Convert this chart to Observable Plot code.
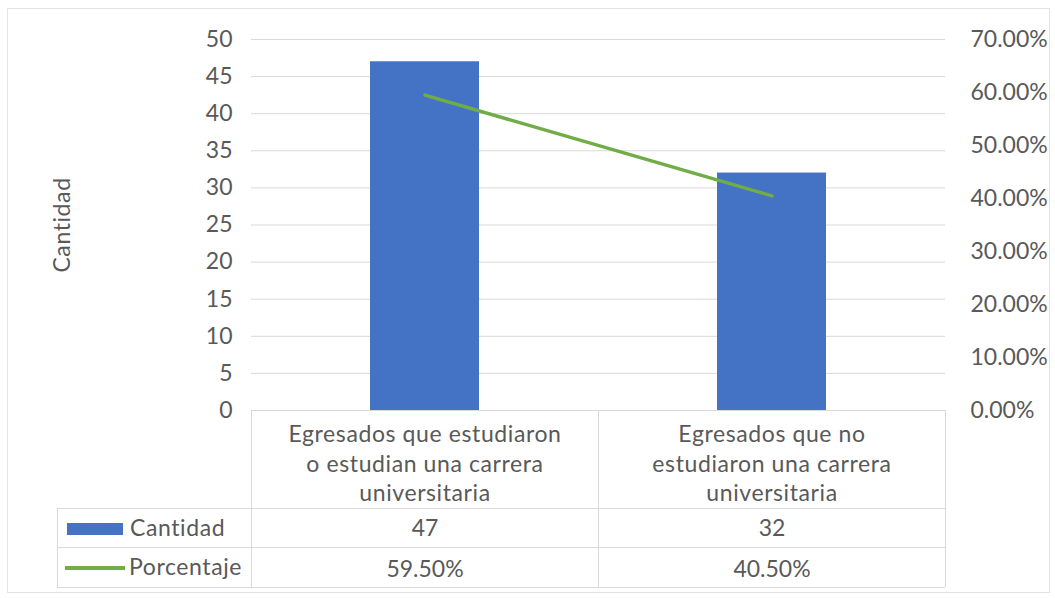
<!DOCTYPE html>
<html><head><meta charset="utf-8">
<script src="https://cdn.jsdelivr.net/npm/d3@7"></script>
<script src="https://cdn.jsdelivr.net/npm/@observablehq/plot@0.6"></script>
<style>body{margin:0;background:#fff}</style>
</head><body><div id="chart"></div>
<script>
const categories = [
  "Egresados que estudiaron\no estudian una carrera\nuniversitaria",
  "Egresados que no\nestudiaron una carrera\nuniversitaria"
];
const cantidad = [47, 32];
const porcentaje = [59.5, 40.5];
const leftTicks = [0, 5, 10, 15, 20, 25, 30, 35, 40, 45, 50];
const rightTicks = [0, 10, 20, 30, 40, 50, 60, 70];
const seriesNames = ["Cantidad", "Porcentaje"];
const yTitle = "Cantidad";

const yMax = 50, pMax = 70;
const toY = p => p / pMax * yMax;
const rows = categories.map((c, i) => ({cat: c, cantidad: cantidad[i], porcentaje: porcentaje[i]}));

const W = 1055, H = 598, mL = 251, mR = 110, mT = 39, mB = 188;
const gray = "#595959", lineGray = "#d9d9d9";
const blue = "#4472c4", green = "#70ad47";
const FONT = "Lato, sans-serif", FS = 23, LS = "0.6px";

const chart = Plot.plot({
  width: W, height: H, marginLeft: mL, marginRight: mR, marginTop: mT, marginBottom: mB,
  style: {fontFamily: FONT, fontSize: FS + "px", color: gray, background: "transparent"},
  x: {domain: categories, paddingInner: 0.686, paddingOuter: 0.343, axis: null},
  y: {domain: [0, yMax], axis: null},
  marks: [
    Plot.gridY(leftTicks, {stroke: lineGray, strokeOpacity: 1}),
    Plot.axisY(leftTicks, {anchor: "left", tickSize: 0, tickPadding: 19, label: null, fill: gray}),
    Plot.axisY(rightTicks.map(toY), {anchor: "right", tickSize: 0, tickPadding: 25, label: null, fill: gray,
      tickFormat: d => (d / yMax * pMax).toFixed(2) + "%"}),
    Plot.barY(rows, {x: "cat", y: "cantidad", fill: blue}),
    Plot.line(rows, {x: "cat", y: d => toY(d.porcentaje), stroke: green, strokeWidth: 3.5}),
    Plot.text(rows, {x: "cat", text: "cat", frameAnchor: "bottom", lineAnchor: "middle", dy: 52, lineHeight: 1.28, fill: gray, className: "ls"}),
    Plot.text(rows, {x: "cat", text: d => String(d.cantidad), frameAnchor: "bottom", lineAnchor: "middle", dy: 118, fill: gray}),
    Plot.text(rows, {x: "cat", text: d => d.porcentaje.toFixed(2) + "%", frameAnchor: "bottom", lineAnchor: "middle", dy: 159, fill: gray}),
    Plot.text([yTitle], {frameAnchor: "left", dx: -189, rotate: -90, textAnchor: "middle", fill: gray, text: d => d, className: "ls"})
  ]
});
document.getElementById("chart").appendChild(chart);
d3.select(chart).selectAll(".ls").attr("letter-spacing", LS);

// data table grid and legend keys, positioned from Plot's own x scale
const xs = chart.scale("x");
const gap = (xs.step - xs.bandwidth) / 2;
const colEdges = [xs.apply(categories[0]) - gap, xs.apply(categories[1]) - gap, xs.apply(categories[1]) + xs.bandwidth + gap];
const tableTop = H - mB, r1 = 508, r2 = 547, r3 = 587, leftEdge = 57;
const svg = d3.select(chart);
const g = svg.insert("g", ":first-child");
g.append("rect").attr("x", 7.5).attr("y", 8.5).attr("width", 1042).attr("height", 584)
  .attr("fill", "none").attr("stroke", "#e3e3e3");
const gl = svg.append("g").attr("stroke", lineGray).attr("fill", "none");
gl.append("line").attr("x1", colEdges[0]).attr("x2", colEdges[2]).attr("y1", tableTop + 0.5).attr("y2", tableTop + 0.5);
[r1, r2, r3].forEach(y => gl.append("line").attr("x1", leftEdge).attr("x2", colEdges[2]).attr("y1", y + 0.5).attr("y2", y + 0.5));
colEdges.forEach(x => gl.append("line").attr("x1", Math.round(x) + 0.5).attr("x2", Math.round(x) + 0.5).attr("y1", tableTop).attr("y2", r3));
gl.append("line").attr("x1", leftEdge + 0.5).attr("x2", leftEdge + 0.5).attr("y1", r1).attr("y2", r3);

const lg = svg.append("g").attr("font-family", FONT).attr("font-size", FS).attr("fill", gray)
  .attr("text-anchor", "start").attr("letter-spacing", LS);
lg.append("rect").attr("x", 67).attr("y", 523).attr("width", 56).attr("height", 12).attr("fill", blue);
lg.append("line").attr("x1", 65).attr("x2", 125).attr("y1", 568).attr("y2", 568).attr("stroke", green).attr("stroke-width", 4);
lg.append("text").attr("x", 130).attr("y", (r1 + r2) / 2).attr("dy", "0.35em").text(seriesNames[0]);
lg.append("text").attr("x", 129).attr("y", (r2 + r3) / 2).attr("dy", "0.35em").text(seriesNames[1]);
</script>
</body></html>
